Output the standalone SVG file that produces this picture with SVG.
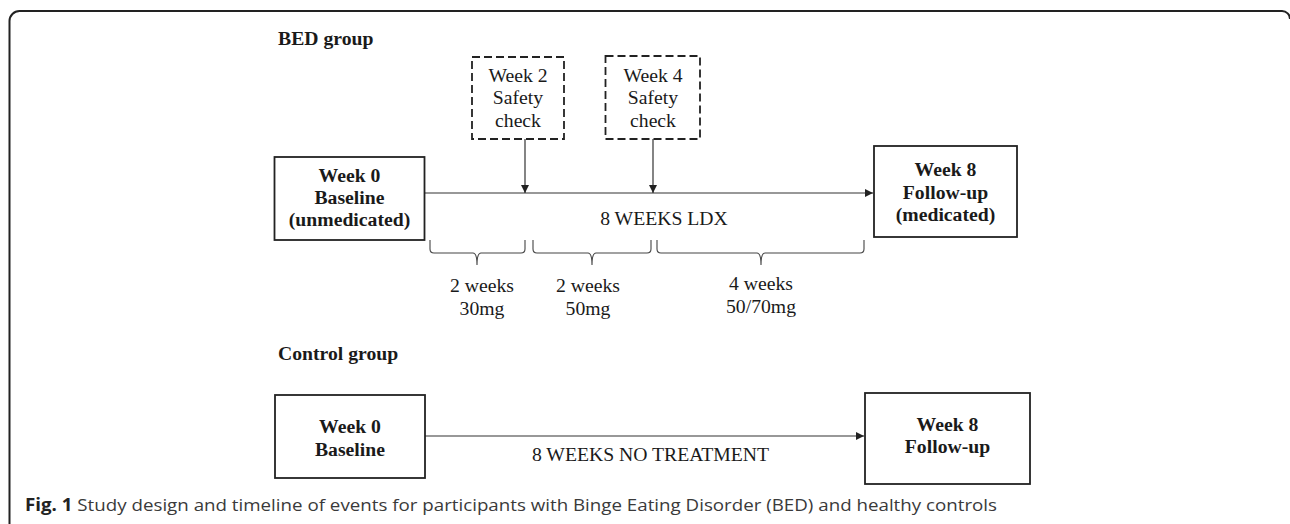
<svg xmlns="http://www.w3.org/2000/svg" width="1290" height="524" viewBox="0 0 1290 524">
<style>
.box{fill:#fff;stroke:#222;stroke-width:1.8}
.dbox{fill:#fff;stroke:#222;stroke-width:1.8;stroke-dasharray:8 4}
.b{font-family:"Liberation Serif","Times New Roman",serif;font-weight:bold;font-size:19.7px;fill:#1a1a1a;text-anchor:middle}
.r{font-family:"Liberation Serif","Times New Roman",serif;font-size:19.7px;fill:#1a1a1a;text-anchor:middle}
.h{font-family:"Liberation Serif","Times New Roman",serif;font-weight:bold;font-size:19.7px;fill:#1a1a1a}
.ln{fill:none;stroke:#333;stroke-width:1.2}
.br{fill:none;stroke:#444;stroke-width:1.1}
.cap{font-family:"Open Sans","Noto Sans",sans-serif;font-size:17px;fill:#3a3a3a}
</style>
<defs>
<marker id="ah" viewBox="0 0 10 10" refX="10" refY="5" markerWidth="10" markerHeight="8" markerUnits="userSpaceOnUse" orient="auto">
<path d="M0,0 L10,5 L0,10 Z" fill="#222"/>
</marker>
</defs>
<path d="M9.5,524 V21 A10,10 0 0 1 19.5,11 H1282 A8,8 0 0 1 1290,19" fill="none" stroke="#222" stroke-width="2"/>
<text class="h" x="278" y="45">BED group</text>
<text class="h" x="278" y="360">Control group</text>
<g id="connectors">
<line class="ln" x1="425" y1="193" x2="873" y2="193" marker-end="url(#ah)"/>
<line class="ln" x1="525" y1="139" x2="525" y2="193" marker-end="url(#ah)"/>
<line class="ln" x1="653" y1="139" x2="653" y2="193" marker-end="url(#ah)"/>
<line class="ln" x1="425" y1="436" x2="864" y2="436" marker-end="url(#ah)"/>
</g>
<g id="bed-week0">
<rect class="box" x="274.5" y="157" width="150" height="83"/>
<text class="b" x="349.5" y="182">Week 0</text>
<text class="b" x="349.5" y="204">Baseline</text>
<text class="b" x="349.5" y="226">(unmedicated)</text>
</g>
<g id="bed-week2">
<rect class="dbox" x="472" y="57" width="92" height="82"/>
<text class="r" x="518" y="82">Week 2</text>
<text class="r" x="518" y="104">Safety</text>
<text class="r" x="518" y="127">check</text>
</g>
<g id="bed-week4">
<rect class="dbox" x="605.5" y="56" width="94.5" height="83"/>
<text class="r" x="653" y="82">Week 4</text>
<text class="r" x="653" y="104">Safety</text>
<text class="r" x="653" y="127">check</text>
</g>
<g id="bed-week8">
<rect class="box" x="874" y="146" width="143" height="91"/>
<text class="b" x="945.5" y="176">Week 8</text>
<text class="b" x="945.5" y="199">Follow-up</text>
<text class="b" x="945.5" y="221">(medicated)</text>
</g>
<text class="r" x="664" y="225">8 WEEKS LDX</text>
<g id="braces">
<path class="br" d="M430,240 V249 Q430,253 434,253 H473 Q477,253 477,265 Q477,253 481,253 H521 Q525,253 525,249 V240"/>
<path class="br" d="M533,240 V249 Q533,253 537,253 H588 Q592,253 592,265 Q592,253 596,253 H647 Q651,253 651,249 V240"/>
<path class="br" d="M657,240 V249 Q657,253 661,253 H757 Q761,253 761,265 Q761,253 765,253 H860 Q864,253 864,249 V240"/>
</g>
<text class="r" x="482" y="292">2 weeks</text>
<text class="r" x="482" y="315">30mg</text>
<text class="r" x="588" y="292">2 weeks</text>
<text class="r" x="588" y="315">50mg</text>
<text class="r" x="761" y="290">4 weeks</text>
<text class="r" x="761" y="313">50/70mg</text>
<g id="ctrl-week0">
<rect class="box" x="275" y="395" width="150" height="83"/>
<text class="b" x="350" y="433">Week 0</text>
<text class="b" x="350" y="456">Baseline</text>
</g>
<g id="ctrl-week8">
<rect class="box" x="865" y="393" width="165" height="91"/>
<text class="b" x="947.5" y="431">Week 8</text>
<text class="b" x="947.5" y="453">Follow-up</text>
</g>
<text class="r" x="650.5" y="461">8 WEEKS NO TREATMENT</text>
<text class="cap" x="25" y="511" textLength="972" lengthAdjust="spacingAndGlyphs"><tspan font-weight="bold" fill="#222">Fig. 1</tspan> Study design and timeline of events for participants with Binge Eating Disorder (BED) and healthy controls</text>
</svg>
